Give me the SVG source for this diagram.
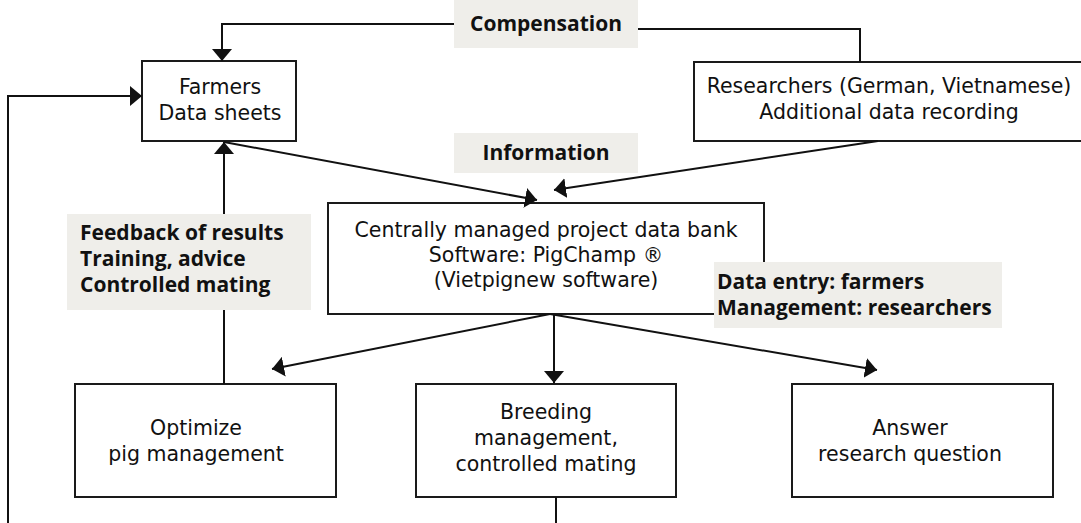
<svg xmlns="http://www.w3.org/2000/svg" width="1081" height="523" viewBox="0 0 1081 523">
<style>
.box{fill:#fff;stroke:#1a1a1a;stroke-width:2}
.lbl{fill:#efeeea}
.t{font-family:"DejaVu Sans",sans-serif;font-size:20.5px;fill:#111;text-anchor:middle}
.b{font-family:"Open Sans","Noto Sans",sans-serif;font-weight:bold;font-size:21px;fill:#111}
.c{fill:none;stroke:#111;stroke-width:2}
</style>
<defs>
<marker id="ah" markerUnits="userSpaceOnUse" viewBox="0 0 12 20" markerWidth="12" markerHeight="20" refX="12" refY="10" orient="auto">
<path d="M0,0 L12,10 L0,20 Z" fill="#111"/>
</marker>
</defs>
<rect width="1081" height="523" fill="#fff"/>
<g id="farmers">
<rect class="box" x="142" y="61" width="154" height="80"/>
<text class="t" x="220" y="94">Farmers</text>
<text class="t" x="220" y="120">Data sheets</text>
</g>
<g id="researchers">
<rect class="box" x="694" y="62" width="400" height="79"/>
<text class="t" x="889" y="93">Researchers (German, Vietnamese)</text>
<text class="t" x="889" y="119">Additional data recording</text>
</g>
<g id="databank">
<rect class="box" x="328" y="203" width="436" height="111"/>
<text class="t" x="546" y="237">Centrally managed project data bank</text>
<text class="t" x="546" y="262">Software: PigChamp ®</text>
<text class="t" x="546" y="287">(Vietpignew software)</text>
</g>
<g id="optimize">
<rect class="box" x="75" y="384" width="261" height="113"/>
<text class="t" x="196" y="435">Optimize</text>
<text class="t" x="196" y="461">pig management</text>
</g>
<g id="breeding">
<rect class="box" x="416" y="384" width="260" height="113"/>
<text class="t" x="546" y="419">Breeding</text>
<text class="t" x="546" y="445">management,</text>
<text class="t" x="546" y="471">controlled mating</text>
</g>
<g id="answer">
<rect class="box" x="792" y="384" width="261" height="113"/>
<text class="t" x="910" y="435">Answer</text>
<text class="t" x="910" y="461">research question</text>
</g>
<g id="connectors">
<polyline class="c" points="454,24 222,24 222,61" marker-end="url(#ah)"/>
<polyline class="c" points="638,29 860,29 860,62"/>
<polyline class="c" points="8,523 8,96 142,96" marker-end="url(#ah)"/>
<line class="c" x1="224" y1="384" x2="224" y2="142" marker-end="url(#ah)"/>
<line class="c" x1="224" y1="142" x2="537" y2="200" marker-end="url(#ah)"/>
<line class="c" x1="878" y1="141" x2="554" y2="190" marker-end="url(#ah)"/>
<line class="c" x1="550" y1="314" x2="272" y2="369" marker-end="url(#ah)"/>
<line class="c" x1="554" y1="314" x2="554" y2="383" marker-end="url(#ah)"/>
<line class="c" x1="550" y1="314" x2="877" y2="370" marker-end="url(#ah)"/>
<line class="c" x1="556" y1="497" x2="556" y2="523"/>
</g>
<g id="label-compensation">
<rect class="lbl" x="454" y="0" width="184" height="48"/>
<text class="b" x="546" y="31" text-anchor="middle">Compensation</text>
</g>
<g id="label-information">
<rect class="lbl" x="454" y="133" width="184" height="40"/>
<text class="b" x="546" y="160" text-anchor="middle">Information</text>
</g>
<g id="label-feedback">
<rect class="lbl" x="67" y="214" width="244" height="96"/>
<text class="b" x="80" y="240">Feedback of results</text>
<text class="b" x="80" y="266">Training, advice</text>
<text class="b" x="80" y="292">Controlled mating</text>
</g>
<g id="label-dataentry">
<rect class="lbl" x="714" y="262" width="288" height="66"/>
<text class="b" x="717" y="289">Data entry: farmers</text>
<text class="b" x="717" y="315">Management: researchers</text>
</g>
</svg>
